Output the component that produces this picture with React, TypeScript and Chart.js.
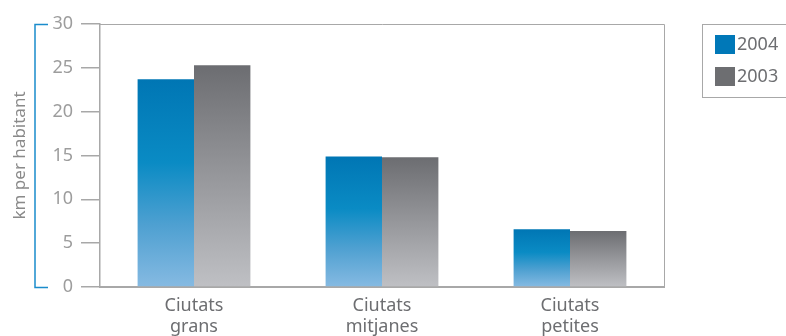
import React, { useEffect, useRef } from "react";
import { Chart, registerables } from "chart.js";

Chart.register(...registerables);

const categories: string[][] = [
  ["Ciutats", "grans"],
  ["Ciutats", "mitjanes"],
  ["Ciutats", "petites"],
];
const values2004: number[] = [23.7, 14.9, 6.6];
const values2003: number[] = [25.3, 14.8, 6.4];
const seriesLabels: string[] = ["2004", "2003"];
const yTicks: number[] = [0, 5, 10, 15, 20, 25, 30];
const yTitle = "km per habitant";

const FONT = "'Noto Sans', 'Open Sans', sans-serif";
const GREY_TEXT = "#6d6e71";
const TICK_TEXT = "#9d9d9d";
const LINE = "#a8a8a8";
const BLUE_SWATCH = "#0078b8";
const GREY_SWATCH = "#6d6e71";
const BRACKET = "#1a8ccc";

function barGradient(ctx: any, stops: [number, string][]) {
  const chart = ctx.chart;
  const area = chart.chartArea;
  if (!area || ctx.type !== "data") return stops[0][1];
  const y = chart.scales.y;
  const v = ctx.raw as number;
  const top = y.getPixelForValue(v);
  const bottom = y.getPixelForValue(0);
  const g = chart.ctx.createLinearGradient(0, top, 0, bottom);
  stops.forEach(([o, c]) => g.addColorStop(o, c));
  return g;
}

const blueStops: [number, string][] = [
  [0, "#0076b4"],
  [0.4, "#0a8bc4"],
  [0.7, "#4ea0d1"],
  [1, "#86bae2"],
];
const greyStops: [number, string][] = [
  [0, "#6c6d71"],
  [0.5, "#96979b"],
  [1, "#bfc0c4"],
];

const framePlugin = {
  id: "frame",
  afterDraw(chart: any) {
    const { ctx, chartArea } = chart;
    const { left, right, top, bottom } = chartArea;
    ctx.save();
    ctx.strokeStyle = LINE;
    ctx.lineWidth = 1;
    ctx.beginPath();
    ctx.moveTo(left, top + 0.5);
    ctx.lineTo(right + 0.5, top + 0.5);
    ctx.lineTo(right + 0.5, bottom);
    ctx.stroke();
    ctx.strokeStyle = BRACKET;
    ctx.lineWidth = 1.5;
    ctx.beginPath();
    ctx.moveTo(left - 52, top + 0.5);
    ctx.lineTo(left - 65, top + 0.5);
    ctx.lineTo(left - 65, bottom + 0.5);
    ctx.lineTo(left - 52, bottom + 0.5);
    ctx.stroke();
    const lx = right + 38;
    const ly = top;
    ctx.strokeStyle = LINE;
    ctx.lineWidth = 1;
    ctx.strokeRect(lx + 0.5, ly + 0.5, 100, 73);
    const colors = [BLUE_SWATCH, GREY_SWATCH];
    ctx.font = `18px ${FONT}`;
    ctx.textBaseline = "middle";
    ctx.textAlign = "left";
    chart.data.datasets.forEach((ds: any, i: number) => {
      const cy = ly + 20 + i * 32;
      ctx.fillStyle = colors[i];
      ctx.fillRect(lx + 13, cy - 9, 20, 19);
      ctx.fillStyle = GREY_TEXT;
      ctx.fillText(ds.label, lx + 35, cy + 1);
    });
    ctx.restore();
  },
};

export default function App() {
  const ref = useRef<HTMLCanvasElement | null>(null);
  useEffect(() => {
    document.body.style.margin = "0";
    const canvas = ref.current!;
    const chart = new Chart(canvas, {
      type: "bar",
      data: {
        labels: categories,
        datasets: [
          {
            label: seriesLabels[0],
            data: values2004,
            backgroundColor: (c: any) => barGradient(c, blueStops),
            borderWidth: 0,
          },
          {
            label: seriesLabels[1],
            data: values2003,
            backgroundColor: (c: any) => barGradient(c, greyStops),
            borderWidth: 0,
          },
        ],
      },
      options: {
        animation: false,
        responsive: false,
        maintainAspectRatio: false,
        layout: { padding: { left: 0, right: 122, top: 24, bottom: 0 } },
        plugins: { legend: { display: false }, tooltip: { enabled: false } },
        datasets: { bar: { categoryPercentage: 0.6, barPercentage: 1 } },
        scales: {
          x: {
            grid: { display: false, drawTicks: false },
            border: { display: true, color: LINE, width: 2 },
            ticks: {
              color: GREY_TEXT,
              font: { family: FONT, size: 18, lineHeight: 1.15 },
              padding: 9,
              maxRotation: 0,
              autoSkip: false,
            },
            afterFit: (s: any) => {
              s.height = 49;
            },
          },
          y: {
            min: 0,
            max: 30,
            afterBuildTicks: (s: any) => {
              s.ticks = yTicks.map((v) => ({ value: v }));
            },
            grid: {
              drawOnChartArea: false,
              drawTicks: true,
              tickLength: 19,
              color: LINE,
              lineWidth: 1.5,
            },
            border: { display: true, color: LINE, width: 1.5 },
            ticks: {
              color: TICK_TEXT,
              font: { family: FONT, size: 18 },
              padding: 8,
            },
            title: {
              display: true,
              text: yTitle,
              color: "#8a8a8a",
              font: { family: FONT, size: 17 },
              padding: { top: 10, bottom: 0 },
            },
            afterFit: (s: any) => {
              s.width = 100;
            },
          },
        },
      },
      plugins: [framePlugin],
    });
    return () => chart.destroy();
  }, []);
  return (
    <div style={{ width: 786, height: 336 }}>
      <canvas ref={ref} width={786} height={336} style={{ display: "block" }} />
    </div>
  );
}
